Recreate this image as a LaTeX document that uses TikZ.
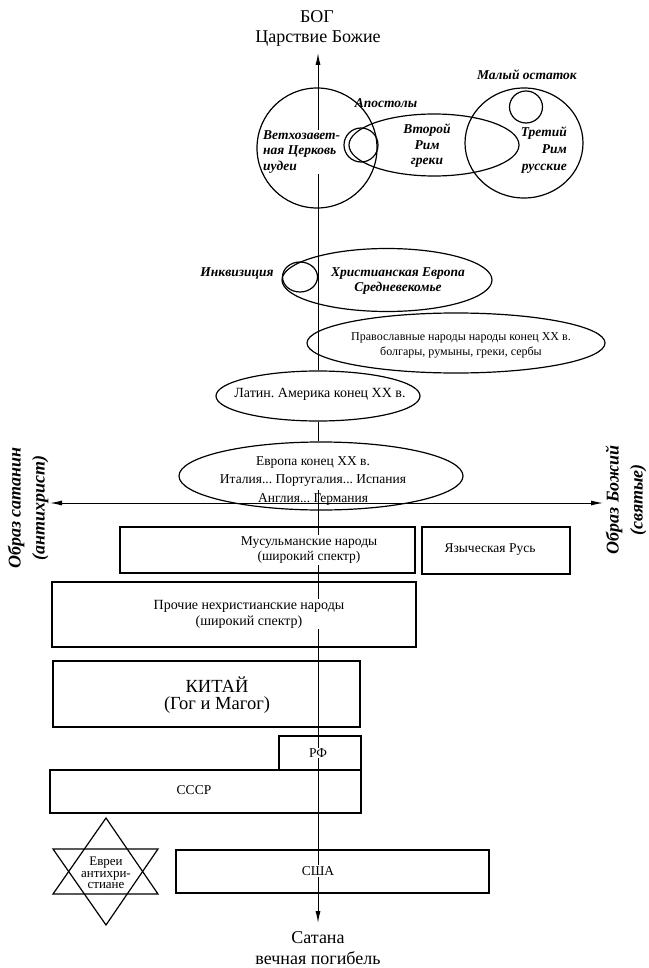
\documentclass[tikz,border=0pt]{standalone}
\usepackage{fontspec}
\setmainfont{Liberation Serif}
\frenchspacing
\usetikzlibrary{shapes.geometric,arrows.meta}
\begin{document}
\begin{tikzpicture}[x=1pt,y=-1pt,
  shp/.style={draw,line width=1.2pt,inner sep=0pt},
  ell/.style={shp,ellipse},
  box/.style={shp,rectangle},
  bi/.style={font=\fontsize{13.5}{15.5}\selectfont\bfseries\itshape,inner sep=1pt},
  rt/.style={font=\fontsize{12}{15}\selectfont,inner sep=1pt,align=center},
  bt/.style={font=\fontsize{13.5}{15.5}\selectfont,inner sep=1pt,align=center},
  big/.style={font=\fontsize{18}{20}\selectfont,inner sep=1pt,align=center},
  side/.style={font=\fontsize{18}{24}\selectfont\bfseries\itshape,inner sep=1pt,align=center,rotate=90},
  wt/.style={fill=white},
  ax/.style={line width=1pt},
  tipE/.style={-{Latex[length=12pt,width=5pt]}},
  tipB/.style={{Latex[length=12pt,width=5pt]}-{Latex[length=12pt,width=5pt]}},
]
\useasboundingbox (0,0) rectangle (648,968);

% filled ellipses
\node[ell,fill=white,minimum width=204pt,minimum height=50pt] (la) at (318,396) {};
\node[ell,fill=white,minimum width=284pt,minimum height=68pt] (eu) at (321,476) {};

% coordinates of the axis
\coordinate (topTip) at (318,53);
\coordinate (botTip) at (318,923);
\coordinate (axStart) at (318,490);
\coordinate (hl) at (50,503);
\coordinate (hr) at (603,503);

% axis
\draw[ax,tipE] (la.north) -- (topTip);
\draw[ax] (la.south) -- (eu.north -| la.south);
\draw[ax,tipE] (axStart) -- (botTip);
\draw[ax,tipB] (hl) -- (hr);

% top / bottom titles
\node[big] (god1) at (317,17) {БОГ};
\node[big] (god) at (318,39) {Царствие Божие};
\node[big] (sat1) at (318,938) {Сатана};
\node[big] (sat) at (318,958) {вечная погибель};

% texts of the upper part
\node[bi] (remt) at (527,75) {Малый остаток};
\node[bi] (apt) at (386,103) {Апостолы};
\node[bi,wt,align=left,anchor=west] (ott) at (262,152) {Ветхозавет-\\ная Церковь\\иудеи};
\node[bi,align=center] (r2t) at (427,146) {Второй\\Рим\\греки};
\node[bi,align=right,anchor=east,font=\fontsize{13.5}{17}\selectfont\bfseries\itshape] (r3t) at (568,150) {Третий\\Рим\\русские};
\node[bi] (inqt) at (237,273) {Инквизиция};
\node[bi,align=center,font=\fontsize{13.5}{15}\selectfont\bfseries\itshape] (cet) at (398,281) {Христианская Европа\\Средневекомье};
\node[rt] (ort) at (461,345) {Православные народы народы конец XX в.\\болгары, румыны, греки, сербы};
\node[bt,font=\fontsize{14}{15}\selectfont] (lat) at (320,394) {Латин. Америка конец XX в.};
\node[bt,font=\fontsize{13.5}{18.5}\selectfont] (eut) at (313,481) {Европа конец XX в.\\Италия... Португалия... Испания\\Англия... Германия};

% side labels
\node[side] (lsat) at (28,508) {Образ сатанин\\(антихрист)};
\node[side] (rgod) at (626,500) {Образ Божий\\(святые)};

% box texts
\node[bt,wt] (must) at (309,550) {Мусульманские народы\\(широкий спектр)};
\node[bt] (yazt) at (490,550) {Языческая Русь};
\node[bt,wt,font=\fontsize{14}{16}\selectfont] (prt) at (249,614) {Прочие нехристианские народы\\(широкий спектр)};
\node[big,font=\fontsize{18.5}{17}\selectfont] (kit) at (217,695) {КИТАЙ\\(Гог и Магог)};
\node[bt,wt] (rft) at (318,753) {РФ};
\node[bt] (sst) at (194,790) {СССР};
\node[bt,wt] (ust) at (318,871) {США};
\node[bt,font=\fontsize{13}{11.5}\selectfont] (jt) at (106,873) {Евреи\\антихри-\\стиане};

% unfilled ellipses
\node[ell,minimum width=120pt,minimum height=120pt] (ot) at (317,148) {};
\node[ell,minimum width=34pt,minimum height=34pt] (ap) at (361,145) {};
\node[ell,minimum width=170pt,minimum height=62pt] (rome2) at (434,145) {};
\node[ell,minimum width=118pt,minimum height=110pt] (rome3) at (524,143) {};
\node[ell,minimum width=33pt,minimum height=32pt] (rem) at (526,107) {};
\node[ell,minimum width=210pt,minimum height=63pt] (ce) at (387,280) {};
\node[ell,minimum width=35pt,minimum height=30pt] (inq) at (300,277) {};
\node[ell,minimum width=298pt,minimum height=60pt] (ore) at (456,343) {};

% boxes
\node[box,minimum width=295pt,minimum height=46pt] (mus) at (267.5,550) {};
\node[box,minimum width=148pt,minimum height=47pt] (yaz) at (496,550.5) {};
\node[box,minimum width=364pt,minimum height=65pt] (pr) at (234,614.5) {};
\node[box,minimum width=307pt,minimum height=66pt] (kitb) at (206.5,694) {};
\node[box,minimum width=82pt,minimum height=34pt] (rf) at (320,753) {};
\node[box,minimum width=311pt,minimum height=43pt] (ss) at (205.5,791.5) {};
\node[box,minimum width=313pt,minimum height=43pt] (us) at (332.5,871.5) {};

% star of David
\draw[line width=1.2pt] (106,818) -- (158,894) -- (53,894) -- cycle;
\draw[line width=1.2pt] (106,925) -- (158,849) -- (53,849) -- cycle;
\end{tikzpicture}
\end{document}
